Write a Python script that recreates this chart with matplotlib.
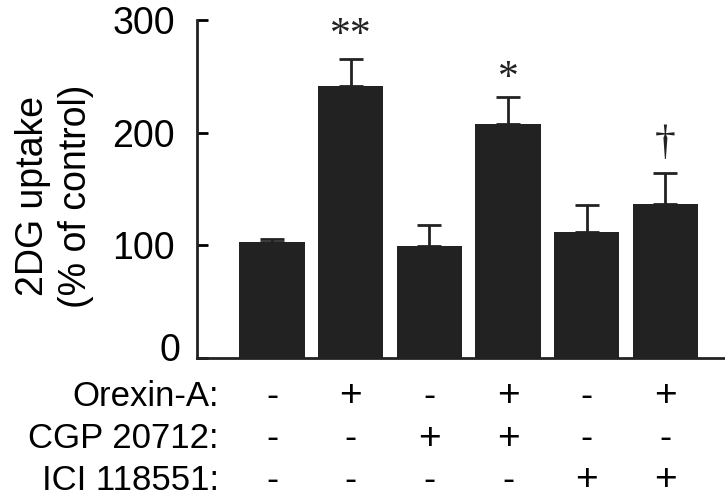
import matplotlib
matplotlib.use("Agg")
import matplotlib.pyplot as plt
import matplotlib.transforms as mtransforms

plt.rcParams['font.family'] = ['Liberation Sans', 'DejaVu Sans']

values = [102.7, 241.6, 99.1, 208.0, 111.5, 136.3]
errors = [2.6, 23.9, 18.6, 23.9, 23.9, 28.3]
marks = ["", "**", "", "*", "", "†"]
mark_y = [0, 286, 0, 248, 0, 190]
row_names = ["Orexin-A:", "CGP 20712:", "ICI 118551:"]
orexin = ["-", "+", "-", "+", "-", "+"]
cgp = ["-", "-", "+", "+", "-", "-"]
ici = ["-", "-", "-", "-", "+", "+"]
yticks = [0, 100, 200, 300]

fig = plt.figure(figsize=(7.25, 5.0), dpi=100)
ax = fig.add_axes([197/725, 142/500, 1 - 197/725, (358-20)/500])

x = list(range(len(values)))
ax.bar(x, values, width=0.83, color='#222222', zorder=2)
ax.errorbar(x, values, yerr=[[0]*len(errors), errors], fmt='none',
            ecolor='#222222', elinewidth=2.0, capsize=8.5, capthick=2.0, zorder=1)

for xi, m, my in zip(x, marks, mark_y):
    if m:
        ax.text(xi, my, m, ha='center', va='center', fontsize=30,
                family='Liberation Serif', color='#222222')

ax.set_xlim(-0.955, 5.76)
ax.set_ylim(0, 300)
ax.set_yticks(yticks)
ax.set_yticklabels([str(t) for t in yticks], fontsize=27)
ax.tick_params(axis='y', direction='in', length=8, width=2, pad=16)
ax.set_xticks([])
for s in ['top', 'right']:
    ax.spines[s].set_visible(False)
for s in ['left', 'bottom']:
    ax.spines[s].set_linewidth(2)
    ax.spines[s].set_color('#222222')

zero_lbl = ax.yaxis.get_major_ticks()[0].label1
zero_lbl.set_transform(zero_lbl.get_transform() +
                       mtransforms.ScaledTranslation(4/72, 8/72, fig.dpi_scale_trans))

fig.text(55/725, 1 - 196/500, "2DG uptake\n(% of control)", rotation=90,
         ha='center', va='center', fontsize=27, linespacing=1.25, multialignment='center')

trans = mtransforms.blended_transform_factory(ax.transData, fig.transFigure)
rows = [orexin, cgp, ici]
row_y = [1 - 396/500, 1 - 439/500, 1 - 480/500]
for name, row, ry in zip(row_names, rows, row_y):
    fig.text(219/725, ry, name, ha='right', va='center', fontsize=25)
    for xi, s in zip(x, row):
        ax.text(xi, ry, s, transform=trans, ha='center', va='center',
                fontsize=28 if s == '+' else 26, clip_on=False)

fig.savefig("out.png", dpi=100)
